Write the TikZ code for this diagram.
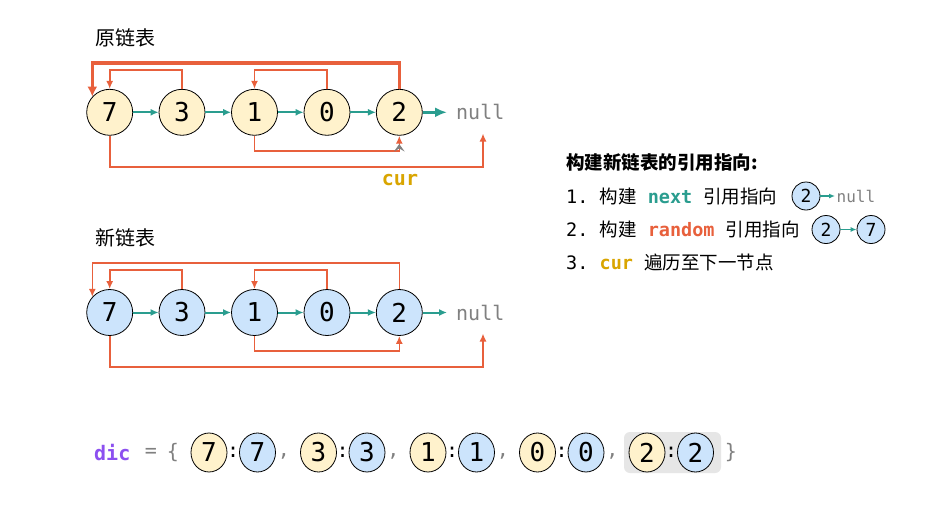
\documentclass[tikz,border=0pt]{standalone}
\usepackage{fontspec}
\setmonofont{DejaVu Sans Mono}
\newfontfamily\cjk{Noto Sans CJK SC}
\usetikzlibrary{arrows.meta,shapes.geometric,calc}
\definecolor{yfill}{HTML}{FFF2CC}
\definecolor{bfill}{HTML}{CCE4FC}
\definecolor{redc}{HTML}{E8603C}
\definecolor{tealc}{HTML}{2A9D8F}
\definecolor{goldc}{HTML}{D9A500}
\definecolor{purplec}{HTML}{8C50F0}
\definecolor{nullc}{HTML}{808080}
\definecolor{boxc}{HTML}{E6E6E6}
\begin{document}
\begin{tikzpicture}[x=1pt,y=-1pt,
  lnode/.style={circle,draw=black,line width=0.8pt,minimum size=46pt,inner sep=0pt,font=\ttfamily\fontsize{26}{28}\selectfont},
  ynode/.style={lnode,fill=yfill},
  bnode/.style={lnode,fill=bfill},
  snode/.style={circle,draw=black,line width=0.8pt,minimum size=28pt,inner sep=0pt,fill=bfill,font=\ttfamily\fontsize{18}{20}\selectfont},
  enode/.style={ellipse,draw=black,line width=0.8pt,minimum width=36pt,minimum height=39pt,inner sep=0pt,font=\ttfamily\fontsize{26}{28}\selectfont},
  nextarr/.style={draw=tealc,line width=2pt,-{Latex[length=8pt,width=7pt]}},
  bignext/.style={draw=tealc,line width=3.5pt,-{Latex[length=12pt,width=10pt]}},
  randarr/.style={draw=redc,line width=1.6pt,-{Latex[length=8pt,width=7pt]}},
  bigrand/.style={draw=redc,line width=3.2pt,-{Latex[length=10pt,width=10pt]}},
  nulltxt/.style={anchor=west,inner xsep=9pt,inner ysep=0pt,text=nullc,font=\ttfamily\fontsize{20}{22}\selectfont},
  ttl/.style={anchor=west,inner sep=0pt,font=\cjk\fontsize{20}{22}\selectfont},
  legtxt/.style={anchor=west,inner sep=0pt,font=\ttfamily\fontsize{18.5}{20}\selectfont},
  codetxt/.style={inner sep=0pt,font=\ttfamily\fontsize{20}{22}\selectfont}
]
\useasboundingbox (0,0) rectangle (928,514);
\fill[white] (0,0) rectangle (928,514);

% ---------- original list ----------
\node[ttl] (t1) at (95,37.5) {原链表};
\foreach \v/\x [count=\i] in {7/109.7,3/182,1/254.5,0/327,2/399.3}
  \node[ynode] (a\i) at (\x,112.3) {\v};
\node[nulltxt] (nullA) at (447,112.3) {null};
\coordinate (tA) at (483,133.5);
\draw[nextarr] (a1) -- (a2);
\draw[nextarr] (a2) -- (a3);
\draw[nextarr] (a3) -- (a4);
\draw[nextarr] (a4) -- (a5);
\draw[bignext] (a5) -- (a5 -| nullA.west);
\draw[randarr] (a2.north) -- ++(0,-19) -| (a1.north);
\draw[randarr] (a4.north) -- ++(0,-19) -| (a3.north);
\draw[randarr] (a3.south) -- ++(0,15) -| (a5.south);
\draw[randarr] (a1.south) -- ++(0,31) -| (tA);
\draw[bigrand] (a5.north) -- ++(0,-26) -| (a1.138);
\fill[nullc] (394,151.5) -- (399.3,144) -- (404.6,151.5) -- (399.3,148.5) -- cycle;
\node[inner sep=0pt,text=goldc,font=\ttfamily\bfseries\fontsize{20}{22}\selectfont] (cur) at (400,180.5) {cur};

% ---------- new list ----------
\node[ttl] (t2) at (95,238) {新链表};
\foreach \v/\x [count=\i] in {7/109.7,3/182,1/254.5,0/327,2/399.3}
  \node[bnode] (b\i) at (\x,312.5) {\v};
\node[nulltxt] (nullB) at (447,312.5) {null};
\coordinate (tB) at (483,333.5);
\draw[nextarr] (b1) -- (b2);
\draw[nextarr] (b2) -- (b3);
\draw[nextarr] (b3) -- (b4);
\draw[nextarr] (b4) -- (b5);
\draw[nextarr] (b5) -- (b5 -| nullB.west);
\draw[randarr] (b2.north) -- ++(0,-19) -| (b1.north);
\draw[randarr] (b4.north) -- ++(0,-19) -| (b3.north);
\draw[randarr] (b3.south) -- ++(0,15) -| (b5.south);
\draw[randarr] (b1.south) -- ++(0,31) -| (tB);
\draw[randarr] (b5.north) -- ++(0,-26) -| (b1.138);

% ---------- legend ----------
\node[anchor=west,inner sep=0pt,font=\cjk\bfseries\fontsize{18.5}{20}\selectfont] (lt) at (566,162) {构建新链表的引用指向:};
\node[legtxt] (l1) at (566,196) {1.\ {\cjk 构建}\ \textbf{\color{tealc}next}\ {\cjk 引用指向}};
\node[legtxt] (l2) at (566,229.5) {2.\ {\cjk 构建}\ \textbf{\color{redc}random}\ {\cjk 引用指向}};
\node[legtxt] (l3) at (566,262) {3.\ \textbf{\color{goldc}cur}\ {\cjk 遍历至下一节点}};
\node[snode] (c1) at (806,196) {2};
\node[anchor=west,inner xsep=1.5pt,inner ysep=0pt,text=nullc,font=\ttfamily\fontsize{16}{18}\selectfont] (n1) at (835,196) {null};
\draw[draw=tealc,line width=1.6pt,-{Latex[length=6pt,width=5pt]}] (c1) -- (c1 -| n1.west);
\node[snode] (c2) at (826,229.5) {2};
\node[snode] (c3) at (871,229.5) {7};
\draw[draw=tealc,line width=1.6pt,-{Latex[length=6pt,width=5pt]}] (c2) -- (c3);

% ---------- dic ----------
\fill[boxc, rounded corners=6pt] (624,432) rectangle (721,473);
\node[codetxt,anchor=west,text=purplec,font=\ttfamily\bfseries\fontsize{20}{22}\selectfont] (dic) at (94,452.5) {dic};
\node[codetxt,text=nullc] (eq) at (151,452.5) {=};
\node[codetxt,text=nullc] (lb) at (173,452.5) {\{};
\foreach \v [count=\k from 0] in {7,3,1,0,2} {
  \node[enode,fill=yfill] (y\k) at ({209+109.5*\k},452.5) {\v};
  \node[codetxt] (col\k) at ({233.2+109.5*\k},452.5) {:};
  \node[enode,fill=bfill] (z\k) at ({257.5+109.5*\k},452.5) {\v};
}
\foreach \k in {0,1,2,3}
  \node[codetxt,text=nullc] (cm\k) at ({284+109.5*\k},456) {,};
\node[codetxt,text=nullc] (rb) at (731,452.5) {\}};
\end{tikzpicture}
\end{document}
